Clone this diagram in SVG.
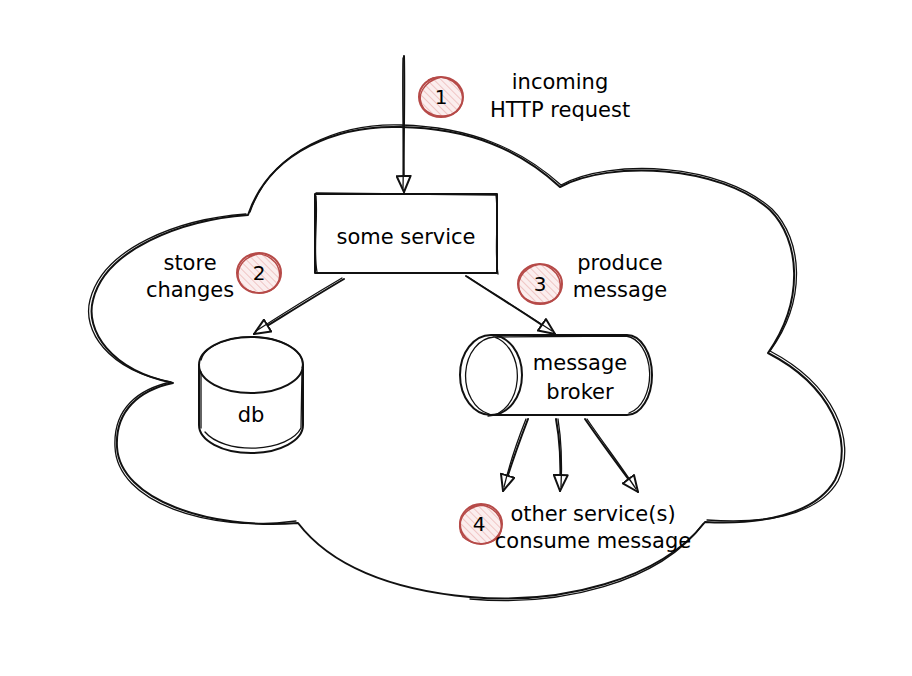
<svg xmlns="http://www.w3.org/2000/svg" width="912" height="676" viewBox="0 0 912 676">
<defs>
<style>
.s{fill:none;stroke:#111111;stroke-width:2;stroke-linecap:round;stroke-linejoin:round}
.s2{fill:none;stroke:#111111;stroke-width:1.3;stroke-linecap:round;stroke-linejoin:round}
.t{font-family:"DejaVu Sans","Noto Sans",sans-serif;font-size:21px;fill:#000000;text-anchor:middle}
.n{font-family:"DejaVu Sans","Noto Sans",sans-serif;font-size:20px;fill:#000000;text-anchor:middle}
.b{fill:url(#hatch);stroke:#b64a48;stroke-width:2}
.b2{fill:none;stroke:#b64a48;stroke-width:1.4}
</style>
<pattern id="hatch" patternUnits="userSpaceOnUse" width="5" height="5" patternTransform="rotate(-45)">
<rect width="5" height="5" fill="#fbeeee"/>
<line x1="0" y1="0" x2="0" y2="5" stroke="#e8a9a8" stroke-width="1.2"/>
</pattern>
<marker id="ah" markerUnits="userSpaceOnUse" viewBox="0 0 18 16" markerWidth="18" markerHeight="16" refX="17" refY="8" orient="auto">
<path d="M1,1 L17,8 L1,15 Z" fill="#ffffff" stroke="#111111" stroke-width="2" stroke-linejoin="round"/>
</marker>
</defs>
<rect width="912" height="676" fill="#ffffff"/>

<g id="cloud">
<path class="s" d="M248,215 C270,150 340,125 400,127 C470,128 520,150 560,187 C610,160 720,165 770,210 C800,240 805,300 768,353 C830,385 855,440 835,480 C815,515 760,525 705,522 C660,580 560,605 470,597 C390,590 330,565 298,523 C210,530 120,500 117,447 C115,410 140,390 173,383 C110,370 85,330 93,300 C105,250 180,220 248,215 Z"/>
<path class="s2" d="M250,212 C272,149 341,123 401,125 C471,127 521,149 561,185 C611,158 721,163 772,209 C803,240 807,300 770,351 C833,384 858,440 838,481 C817,517 761,524 707,520 M703,524 C659,583 560,607 470,599 M296,521 C208,533 117,502 115,447 C113,408 139,389 171,382 C107,370 82,330 90,300 C103,248 178,219 246,214"/>
</g>

<g id="connectors">
<path class="s" d="M404,56 C405,100 403,150 404,192" marker-end="url(#ah)"/>
<path class="s2" d="M403,58 C402,100 404,150 403,188"/>
<path class="s" d="M344,279 C315,296 285,315 254,334" marker-end="url(#ah)"/>
<path class="s2" d="M342,278 C313,295 284,313 256,331"/>
<path class="s" d="M466,276 C495,295 525,313 555,334" marker-end="url(#ah)"/>
<path class="s2" d="M468,277 C497,296 526,314 552,331"/>
<path class="s" d="M528,419 C518,445 510,468 503,491" marker-end="url(#ah)"/>
<path class="s2" d="M526,419 C516,444 509,466 504,487"/>
<path class="s" d="M556,419 C561,445 561,468 560,491" marker-end="url(#ah)"/>
<path class="s2" d="M558,419 C562,444 562,467 561,487"/>
<path class="s" d="M585,419 C603,445 620,468 638,492" marker-end="url(#ah)"/>
<path class="s2" d="M587,419 C604,444 621,466 636,489"/>
</g>

<g id="some-service">
<path class="s" d="M315,194 L497,194 L497,273 L315,273 Z"/>
<path class="s2" d="M316,196 C318,220 313,250 317,272 M496,195 C499,220 494,250 498,274 M316,193 L496,195"/>
<text class="t" x="406" y="244">some service</text>
</g>

<g id="db">
<path class="s" d="M199,365 A52,28 0 0 1 303,365 A52,28 0 0 1 199,365 Z"/>
<path class="s" d="M199,365 L199,425 A52,28 0 0 0 303,425 L303,365"/>
<path class="s2" d="M201,360 A51,27 0 0 1 302,368 M201,372 L201,428 M302,370 L301,428 A51,27 0 0 1 205,432"/>
<text class="t" x="251" y="422">db</text>
</g>

<g id="message-broker">
<path class="s" d="M491,335 L627,335 A25,40 0 0 1 627,415 L491,415 A31,40 0 0 1 491,335 A31,40 0 0 1 491,415"/>
<path class="s2" d="M493,337 L626,336 A26,39 0 0 1 629,413 M489,414 A30,39 0 0 1 494,337 A30,40 0 0 1 488,416"/>
<text class="t" x="580" y="370">message</text>
<text class="t" x="580" y="399">broker</text>
</g>

<g id="step-1">
<ellipse class="b" cx="441" cy="97" rx="22" ry="20"/>
<path class="b2" d="M428,80 C445,71 466,85 462,103 C458,118 436,120 424,109 C415,96 423,82 441,77"/>
<text class="n" x="441" y="104">1</text>
<text class="t" x="560" y="89">incoming</text>
<text class="t" x="560" y="117">HTTP request</text>
</g>

<g id="step-2">
<ellipse class="b" cx="259" cy="273" rx="22" ry="20"/>
<path class="b2" d="M248,256 C264,249 283,262 279,280 C275,295 253,296 242,286 C233,273 240,258 258,254"/>
<text class="n" x="259" y="280">2</text>
<text class="t" x="190" y="270">store</text>
<text class="t" x="190" y="297">changes</text>
</g>

<g id="step-3">
<ellipse class="b" cx="540" cy="284" rx="22" ry="20"/>
<path class="b2" d="M528,267 C545,259 563,272 560,291 C556,306 533,306 522,296 C514,283 521,268 540,264"/>
<text class="n" x="540" y="291">3</text>
<text class="t" x="620" y="270">produce</text>
<text class="t" x="620" y="297">message</text>
</g>

<g id="step-4">
<ellipse class="b" cx="481" cy="524" rx="21" ry="20"/>
<path class="b2" d="M469,508 C486,500 504,512 501,531 C497,546 474,547 463,537 C455,524 462,509 481,505"/>
<text class="n" x="479" y="531">4</text>
<text class="t" x="593" y="521">other service(s)</text>
<text class="t" x="593" y="548">consume message</text>
</g>
</svg>
